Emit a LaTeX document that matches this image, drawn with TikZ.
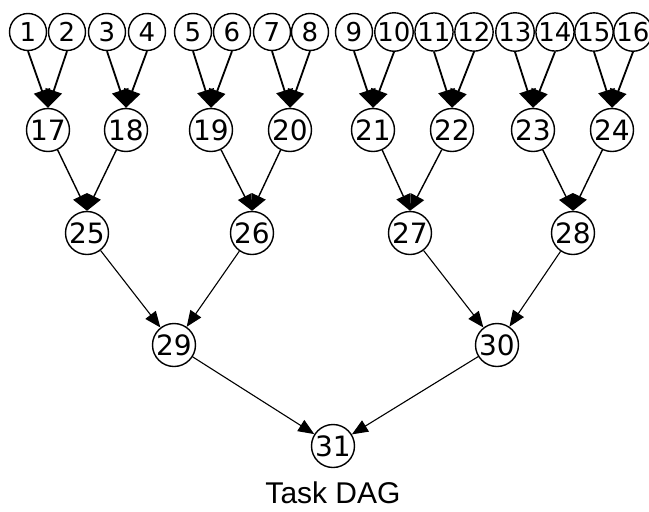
\documentclass[tikz,border=0pt]{standalone}
\usepackage{fontspec}
\setmainfont{DejaVu Sans}
\newfontfamily\labelfont{Liberation Sans}
\usetikzlibrary{arrows.meta}
\begin{document}
\begin{tikzpicture}[x=1pt,y=-1pt,
  leaf/.style={circle,draw,line width=1.4pt,inner sep=0pt,minimum size=37pt,font=\fontsize{26}{26}\selectfont},
  task/.style={circle,draw,line width=1.4pt,inner sep=0pt,minimum size=43pt,font=\fontsize{28}{28}\selectfont},
  toparrow/.style={-{Triangle[length=18pt,width=17pt]},line width=1.8pt},
  midarrow/.style={-{Triangle[length=16pt,width=15pt]},line width=1.4pt},
  lowarrow/.style={-{Triangle[length=16pt,width=13pt]},line width=1.1pt}]
\useasboundingbox (0,0) rectangle (649,512);
% top row
\foreach \n/\x in {1/28,2/67,3/107,4/147,5/193,6/232,7/272,8/310,9/354,10/394,11/434,12/474,13/515,14/555,15/594,16/633}
  \node[leaf] (n\n) at (\x,32) {\n};
% second row
\foreach \n/\x in {17/48,18/126,19/211,20/290,21/373,22/452,23/533,24/612}
  \node[task] (n\n) at (\x,130) {\n};
% third row
\foreach \n/\x in {25/87,26/252,27/410,28/573}
  \node[task] (n\n) at (\x,233) {\n};
\node[task] (n29) at (174,345) {29};
\node[task] (n30) at (497,345) {30};
\node[task] (n31) at (333,446) {31};
\node[font=\labelfont\fontsize{30}{30}\selectfont] (title) at (333,493) {Task DAG};
% edges
\foreach \a/\b in {1/17,2/17,3/18,4/18,5/19,6/19,7/20,8/20,9/21,10/21,11/22,12/22,13/23,14/23,15/24,16/24}
  \draw[toparrow] (n\a.south) -- (n\b.north);
\foreach \a/\b in {17/25,18/25,19/26,20/26,21/27,22/27,23/28,24/28}
  \draw[midarrow] (n\a) -- (n\b.north);
\foreach \a/\b in {25/29,26/29,27/30,28/30,29/31,30/31}
  \draw[lowarrow] (n\a) -- (n\b);
\end{tikzpicture}
\end{document}
